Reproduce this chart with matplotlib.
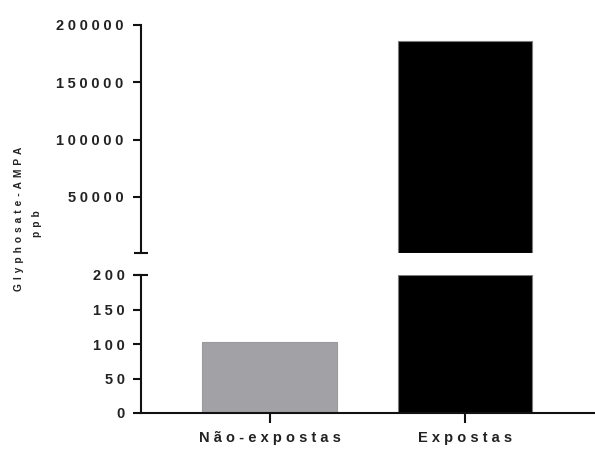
import matplotlib
matplotlib.use("Agg")
import matplotlib.pyplot as plt
import numpy as np

plt.rcParams["font.family"] = ["Liberation Sans", "DejaVu Sans"]
plt.rcParams["font.weight"] = "bold"

# Data
categories = ["Não-expostas", "Expostas"]
values = [103, 186000]
bar_colors = ["#a2a2a6", "#000000"]
edge_colors = ["#9a9a9e", "#7c7c7c"]
low_ticks = [0, 50, 100, 150, 200]
high_ticks = [50000, 100000, 150000, 200000]
low_range = (0, 200)
high_range = (1000, 200000)
ylabel_main = "Glyphosate-AMPA"
ylabel_unit = "ppb"

W, H = 595, 450
TEXT = "#222222"
AXIS = "#111111"


def spaced(s, gap=" "):
    """Letter-spaced version of a label."""
    return gap.join(s)


fig = plt.figure(figsize=(W / 100, H / 100), dpi=100)

left = 141 / W
width = 1.0 - left
ax_hi = fig.add_axes([left, 1 - 253 / H, width, (253 - 25) / H])
ax_lo = fig.add_axes([left, 1 - 413 / H, width, (413 - 275) / H])

x = np.arange(len(categories))
vals = np.array(values, dtype=float)
bar_w = 0.69

# lower segment: bars cut at the top of the lower range
lo_heights = np.clip(vals, low_range[0], low_range[1])
ax_lo.bar(x, lo_heights, width=bar_w, color=bar_colors,
          edgecolor=edge_colors, linewidth=0.8, zorder=2)

# upper segment: only the part above the break
mask = vals > high_range[0]
hi_heights = np.clip(vals, high_range[0], high_range[1]) - high_range[0]
ax_hi.bar(x[mask], hi_heights[mask], bottom=high_range[0], width=bar_w,
          color=np.array(bar_colors)[mask], edgecolor=np.array(edge_colors)[mask],
          linewidth=0.8, zorder=2)

for ax in (ax_hi, ax_lo):
    ax.set_xlim(-0.66, 1.667)
    ax.spines["top"].set_visible(False)
    ax.spines["right"].set_visible(False)
    ax.spines["left"].set_linewidth(1.5)
    ax.spines["left"].set_color(AXIS)

ax_hi.tick_params(axis="y", length=5.8, width=1.5, color=AXIS, pad=7,
                  labelsize=10.5, labelcolor=TEXT)
ax_lo.tick_params(axis="y", length=5.8, width=1.5, color=AXIS, pad=5.8,
                  labelsize=10.5, labelcolor=TEXT)

ax_hi.set_ylim(*high_range)
ax_hi.spines["bottom"].set_visible(False)
ax_hi.set_xticks([])
ax_hi.set_yticks(high_ticks)
ax_hi.set_yticklabels([spaced(str(t), "\u2005") for t in high_ticks])

ax_lo.set_ylim(*low_range)
ax_lo.spines["bottom"].set_linewidth(1.5)
ax_lo.spines["bottom"].set_color(AXIS)
ax_lo.set_yticks(low_ticks)
ax_lo.set_yticklabels([spaced(str(t), "\u2005") for t in low_ticks])
ax_lo.set_xticks(x)
ax_lo.set_xticklabels([spaced(c, " ") for c in categories])
ax_lo.tick_params(axis="x", length=7.2, width=1.5, color=AXIS, pad=6,
                  labelsize=10.5, labelcolor=TEXT)

# end caps at the axis break
ax_hi.plot([0], [0], marker="_", markersize=10, markeredgewidth=1.5,
           color=AXIS, transform=ax_hi.transAxes, clip_on=False)
ax_lo.plot([0], [1], marker="_", markersize=10, markeredgewidth=1.5,
           color=AXIS, transform=ax_lo.transAxes, clip_on=False)

# y-axis title
fig.text(19 / W, 1 - 218.5 / H, spaced(ylabel_main, "\u2009\u2009"), rotation=90,
         fontsize=7.3, fontweight="bold", color=TEXT, ha="center", va="center")
fig.text(37 / W, 1 - 224 / H, spaced(ylabel_unit, "\u2009\u2009"), rotation=90,
         fontsize=7.3, fontweight="bold", color=TEXT, ha="center", va="center")

fig.savefig("out.png", dpi=100)
